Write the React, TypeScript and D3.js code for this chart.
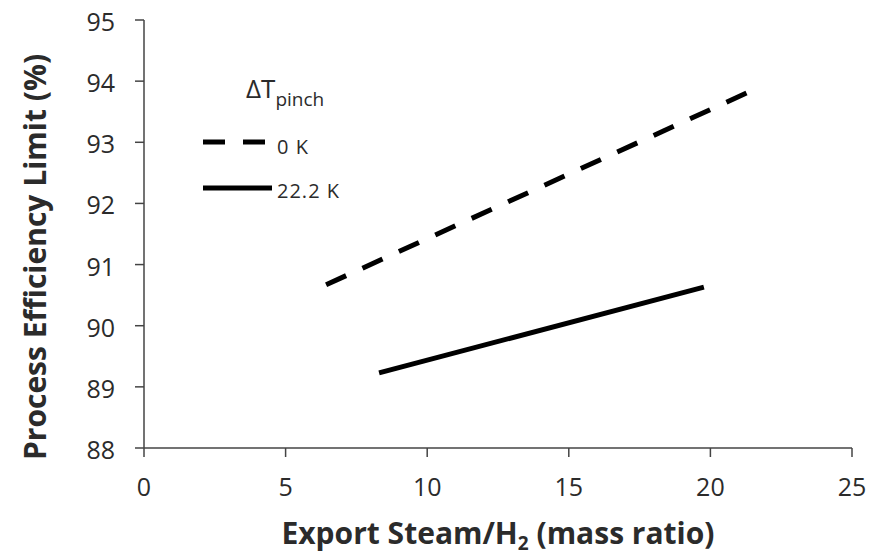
import React from 'react'
import * as d3 from 'd3'

// ΔT_pinch series: export steam/H2 mass ratio vs process efficiency limit (%)
const pinch0X = [6.43, 21.3]
const pinch0Y = [90.67, 93.81]
const pinch22X = [8.3, 19.77]
const pinch22Y = [89.23, 90.63]

const xTicks = [0, 5, 10, 15, 20, 25]
const yTicks = [88, 89, 90, 91, 92, 93, 94, 95]

const W = 874
const H = 558
const font = "'Open Sans', 'Liberation Sans', sans-serif"
const ink = '#2b2b2b'

export default function App() {
  const x = d3.scaleLinear().domain([0, 25]).range([144, 852])
  const y = d3.scaleLinear().domain([88, 95]).range([448, 20])

  const line = d3.line<[number, number]>()
    .x(d => x(d[0]))
    .y(d => y(d[1]))

  const s0 = pinch0X.map((v, i) => [v, pinch0Y[i]] as [number, number])
  const s22 = pinch22X.map((v, i) => [v, pinch22Y[i]] as [number, number])

  return (
    <svg width={W} height={H} style={{ position: 'absolute', left: 0, top: 0, background: '#fff' }}
      fontFamily={font}>
      {/* axes */}
      <g stroke="#444" strokeWidth={1.5}>
        <line x1={x(0)} x2={x(0)} y1={y(95)} y2={y(88)} />
        <line x1={x(0)} x2={x(25)} y1={y(88)} y2={y(88)} />
        {yTicks.map(t => (
          <line key={'yt' + t} x1={x(0) - 9} x2={x(0)} y1={y(t)} y2={y(t)} />
        ))}
        {xTicks.map(t => (
          <line key={'xt' + t} x1={x(t)} x2={x(t)} y1={y(88)} y2={y(88) + 9} />
        ))}
      </g>
      <g fill={ink} fontSize={25}>
        {yTicks.map(t => (
          <text key={'yl' + t} x={x(0) - 29} y={y(t) + 1} textAnchor="end" dominantBaseline="central">{t}</text>
        ))}
        {xTicks.map(t => (
          <text key={'xl' + t} x={x(t)} y={y(88) + 38} textAnchor="middle" dominantBaseline="central">{t}</text>
        ))}
      </g>

      {/* axis titles */}
      <text x={498} y={544} textAnchor="middle" fontSize={30} fontWeight="bold" fill={ink}>
        Export Steam/H<tspan fontSize={19} dy={6}>2</tspan><tspan dy={-6}> (mass ratio)</tspan>
      </text>
      <text transform="translate(46,257) rotate(-90)" textAnchor="middle" fontSize={30} fontWeight="bold" fill={ink}>
        Process Efficiency Limit (%)
      </text>

      {/* series */}
      <path d={line(s0) ?? ''} fill="none" stroke="#000" strokeWidth={5} strokeDasharray="22 18" />
      <path d={line(s22) ?? ''} fill="none" stroke="#000" strokeWidth={5} />

      {/* legend */}
      <text x={246} y={98} fontSize={26} fill={ink}>
        ΔT<tspan fontSize={19} dy={8}>pinch</tspan>
      </text>
      <line x1={203} x2={265} y1={142} y2={142} stroke="#000" strokeWidth={5} strokeDasharray="22 18" />
      <text x={277} y={146} fontSize={20} letterSpacing={1} fill={ink} dominantBaseline="central">0 K</text>
      <line x1={203} x2={272} y1={188} y2={188} stroke="#000" strokeWidth={5} />
      <text x={277} y={190} fontSize={20} letterSpacing={1} fill={ink} dominantBaseline="central">22.2 K</text>
    </svg>
  )
}
